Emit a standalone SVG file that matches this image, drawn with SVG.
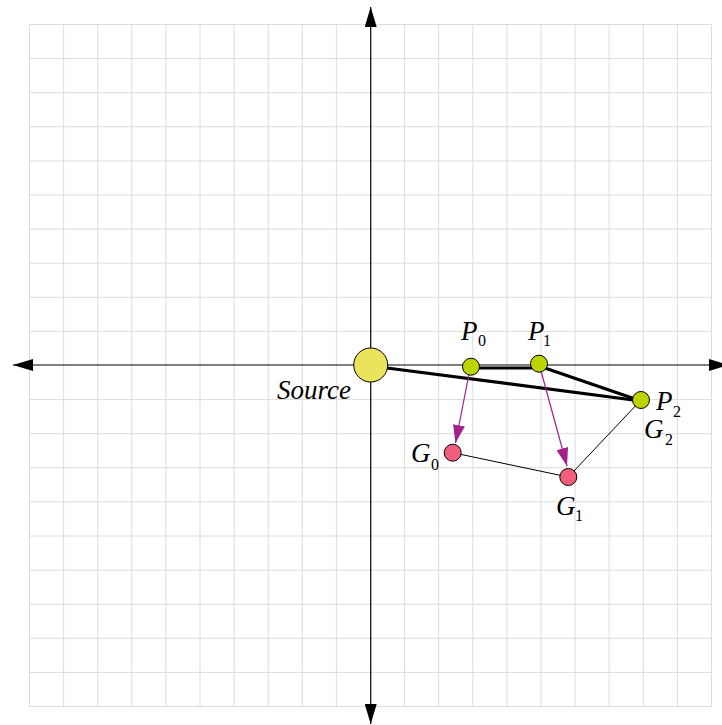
<svg xmlns="http://www.w3.org/2000/svg" width="722" height="725" viewBox="0 0 722 725">
<style>
.grid{stroke:#dcdcdc;stroke-width:1;fill:none}
.axis{stroke:#000;stroke-width:1.2;fill:none}
.thick{stroke:#000;stroke-width:3.2;fill:none;stroke-linecap:round}
.thin{stroke:#000;stroke-width:1;fill:none}
.mag{stroke:#a3218a;stroke-width:1.2;fill:none}
.p{fill:#bcd400;stroke:#000;stroke-width:1}
.g{fill:#f25d7c;stroke:#000;stroke-width:1}
.src{fill:#e9e45c;stroke:#000;stroke-width:1}
.lbl{font-family:"Liberation Serif","Times New Roman",serif;font-style:italic;font-size:27px;fill:#000}
.sub{font-family:"Liberation Serif","Times New Roman",serif;font-style:normal;font-size:16px;fill:#000}
</style>
<defs>
<marker id="ah" viewBox="0 0 20 12" refX="20" refY="6" markerWidth="20" markerHeight="12" markerUnits="userSpaceOnUse" orient="auto"><path d="M0,0 L20,6 L0,12 Z" fill="#000"/></marker>
<marker id="mh" viewBox="0 0 18 12" refX="18" refY="6" markerWidth="18" markerHeight="12" markerUnits="userSpaceOnUse" orient="auto"><path d="M0,0 L18,6 L0,12 Z" fill="#a3218a"/></marker>
</defs>
<rect width="722" height="725" fill="#fff"/>
<g id="grid" class="grid">
<path d="M29.5,24.5V706.5M63.6,24.5V706.5M97.7,24.5V706.5M131.8,24.5V706.5M165.9,24.5V706.5M200,24.5V706.5M234.1,24.5V706.5M268.2,24.5V706.5M302.3,24.5V706.5M336.4,24.5V706.5M404.6,24.5V706.5M438.7,24.5V706.5M472.8,24.5V706.5M506.9,24.5V706.5M541,24.5V706.5M575.1,24.5V706.5M609.2,24.5V706.5M643.3,24.5V706.5M677.4,24.5V706.5M711.5,24.5V706.5"/>
<path d="M29.5,24.5H711.5M29.5,58.6H711.5M29.5,92.7H711.5M29.5,126.8H711.5M29.5,160.9H711.5M29.5,195H711.5M29.5,229.1H711.5M29.5,263.2H711.5M29.5,297.3H711.5M29.5,331.4H711.5M29.5,399.6H711.5M29.5,433.7H711.5M29.5,467.8H711.5M29.5,501.9H711.5M29.5,536H711.5M29.5,570.1H711.5M29.5,604.2H711.5M29.5,638.3H711.5M29.5,672.4H711.5M29.5,706.5H711.5"/>
</g>
<g id="axes" class="axis">
<line x1="370.7" y1="365" x2="370.7" y2="7" marker-end="url(#ah)"/>
<line x1="370.7" y1="365" x2="370.7" y2="724" marker-end="url(#ah)"/>
<line x1="370.7" y1="365" x2="13" y2="365" marker-end="url(#ah)"/>
<line x1="370.7" y1="365" x2="729" y2="365" marker-end="url(#ah)"/>
</g>
<g id="connectors">
<line class="thick" x1="387" y1="368" x2="641" y2="401"/>
<line class="thick" x1="471" y1="368" x2="539" y2="368"/>
<line class="thick" x1="539" y1="366" x2="641" y2="401"/>
<line class="thin" x1="452.7" y1="452.7" x2="568.3" y2="477"/>
<line class="thin" x1="568.3" y1="477" x2="641" y2="400"/>
<line class="mag" x1="469" y1="374" x2="455.5" y2="443" marker-end="url(#mh)"/>
<line class="mag" x1="541" y1="371" x2="567" y2="466" marker-end="url(#mh)"/>
</g>
<g id="source"><circle class="src" cx="370.7" cy="365" r="17"/><text class="lbl" x="277" y="399">Source</text></g>
<g id="p0"><circle class="p" cx="471" cy="366.7" r="8.5"/><text class="lbl" x="461"  y="340">P</text><text class="sub" x="478" y="346">0</text></g>
<g id="p1"><circle class="p" cx="539" cy="363.7" r="8.5"/><text class="lbl" x="528" y="340">P</text><text class="sub" x="543" y="346">1</text></g>
<g id="p2"><circle class="p" cx="641" cy="400" r="8.5"/><text class="lbl" x="656" y="410">P</text><text class="sub" x="673" y="417">2</text><text class="lbl" x="644" y="438">G</text><text class="sub" x="665" y="445">2</text></g>
<g id="g0"><circle class="g" cx="452.7" cy="452.7" r="8.5"/><text class="lbl" x="411" y="462">G</text><text class="sub" x="431" y="470">0</text></g>
<g id="g1"><circle class="g" cx="568.3" cy="477" r="8.5"/><text class="lbl" x="556" y="515">G</text><text class="sub" x="575" y="521">1</text></g>
</svg>
